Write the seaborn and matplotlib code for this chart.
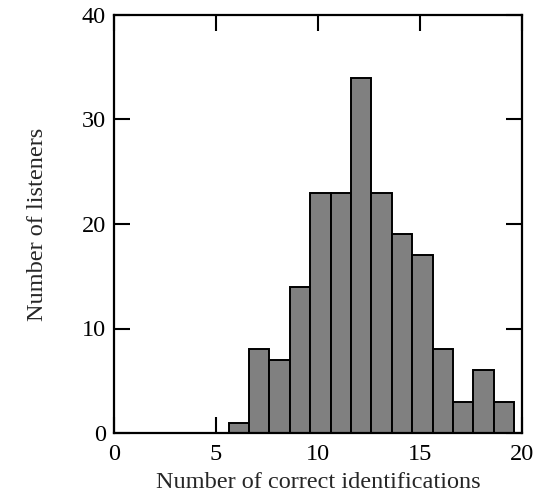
import numpy as np
import matplotlib
matplotlib.use("Agg")
import matplotlib.pyplot as plt
import seaborn as sns

# number of correct identifications (integer scores) and listener counts
scores = [6, 7, 8, 9, 10, 11, 12, 13, 14, 15, 16, 17, 18, 19]
listeners = [1, 8, 7, 14, 23, 23, 34, 23, 19, 17, 8, 3, 6, 3]

sns.set_style("ticks")
plt.rcParams['font.family'] = ['Liberation Serif', 'DejaVu Serif']

fig = plt.figure(figsize=(5.37, 5.0), dpi=100)
ax = fig.add_axes([0.2123, 0.134, 0.7597, 0.836])

sns.histplot(x=scores, weights=listeners, binwidth=1, binrange=(5.62, 19.62),
             color='#808080', alpha=1, edgecolor='black', linewidth=1.4, ax=ax)

ax.set_xlim(0, 20)
ax.set_ylim(0, 40)
ax.set_xticks([0, 5, 10, 15, 20])
ax.set_yticks([0, 10, 20, 30, 40])
ax.tick_params(direction='in', length=11.5, width=1.5, labelsize=17.5,
               top=True, right=True, colors='black')
ax.tick_params(axis='x', pad=8)
ax.tick_params(axis='y', pad=6)
for s in ax.spines.values():
    s.set_linewidth(1.6)
    s.set_color('black')

ax.set_xlabel('Number of correct identifications', fontsize=17.5, labelpad=5)
ax.set_ylabel('Number of listeners', fontsize=17.5, labelpad=24)

fig.savefig('out.png', dpi=100)
